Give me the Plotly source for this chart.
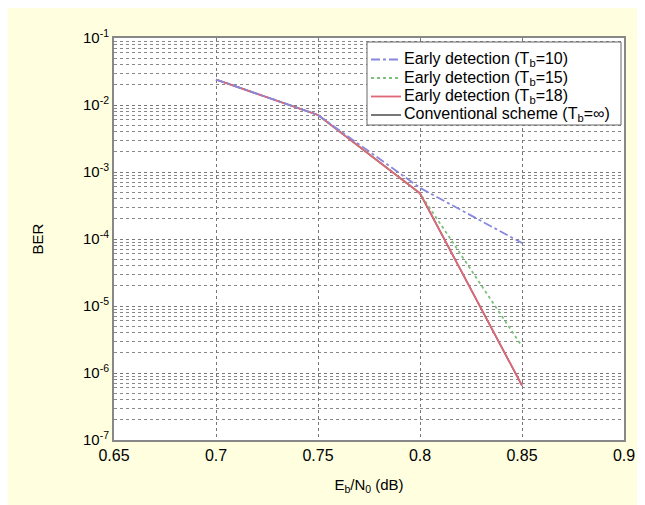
import plotly.graph_objects as go

# Data
snr = [0.7, 0.75, 0.8, 0.85]
ber_t10 = [2.4e-2, 7.1e-3, 5.8e-4, 8.7e-5]
ber_t15 = [2.4e-2, 7.1e-3, 4.8e-4, 2.5e-6]
ber_t18 = [2.4e-2, 7.1e-3, 4.8e-4, 6.5e-7]
ber_conv = [2.4e-2, 7.1e-3, 4.8e-4, 6.5e-7]

names = [
    "Early detection (T<sub>b</sub>=10)",
    "Early detection (T<sub>b</sub>=15)",
    "Early detection (T<sub>b</sub>=18)",
    "Conventional scheme (T<sub>b</sub>=∞)",
]

x_ticks = [0.65, 0.7, 0.75, 0.8, 0.85, 0.9]
x_ticklabels = ["0.65", "0.7", "0.75", "0.8", "0.85", "0.9"]
y_ticks = [1e-7, 1e-6, 1e-5, 1e-4, 1e-3, 1e-2, 1e-1]
y_ticklabels = ["10<sup>-7</sup>", "10<sup>-6</sup>", "10<sup>-5</sup>", "10<sup>-4</sup>",
                "10<sup>-3</sup>", "10<sup>-2</sup>", "10<sup>-1</sup>"]

styles = [
    dict(color="#8888e0", width=1.8, dash="dashdot"),
    dict(color="#7cc07c", width=1.8, dash="dot"),
    dict(color="#e06878", width=1.8),
    dict(color="#555555", width=1.6),
]
series = [ber_t10, ber_t15, ber_t18, ber_conv]

fig = go.Figure()
# draw conventional first, then the rest on top
for i in [3, 1, 2, 0]:
    fig.add_trace(go.Scatter(x=snr, y=series[i], mode="lines", name=names[i],
                             line=styles[i], showlegend=False))

# Manual legend (tight rows, as in the reference)
W, H = 510.0, 402.0  # plot area size in px
def px(xp):
    return (xp - 106) / W
def py(yp):
    return (432 - yp) / H

shapes = [dict(type="rect", xref="paper", yref="paper",
               x0=px(359), x1=px(613), y0=py(117), y1=py(34),
               fillcolor="white", line=dict(color="#666666", width=1), layer="above")]
annotations = []
row_y = [51.5, 70, 88.5, 107]
for i in range(4):
    st = styles[i]
    shapes.append(dict(type="line", xref="paper", yref="paper",
                       x0=px(363), x1=px(393), y0=py(row_y[i]), y1=py(row_y[i]),
                       line=dict(color=st["color"], width=st["width"],
                                 dash=st.get("dash", "solid")), layer="above"))
    annotations.append(dict(xref="paper", yref="paper", x=px(394), y=py(row_y[i]),
                            xanchor="left", yanchor="middle", showarrow=False,
                            text=names[i], font=dict(size=16, color="black")))

font = "Liberation Sans, Arial, sans-serif"
fig.update_layout(
    width=645, height=505,
    margin=dict(l=106, r=29, t=30, b=73),
    paper_bgcolor="#FFFFE0",
    plot_bgcolor="white",
    font=dict(family=font, size=16, color="black"),
    showlegend=False,
    shapes=shapes,
    annotations=annotations,
    xaxis=dict(
        range=[0.65, 0.9], tickvals=x_ticks, ticktext=x_ticklabels,
        showgrid=True, gridcolor="#777777", griddash="dot", gridwidth=1,
        showline=True, linecolor="#888888", linewidth=2, mirror=True,
        ticks="", zeroline=False, tickfont=dict(size=16),
        title=dict(text="E<sub>b</sub>/N<sub>0</sub> (dB)", font=dict(size=15), standoff=16),
    ),
    yaxis=dict(
        type="log", range=[-7, -1], tickvals=y_ticks, ticktext=y_ticklabels,
        showgrid=True, gridcolor="#777777", griddash="dot", gridwidth=1,
        minor=dict(showgrid=True, gridcolor="#888888", griddash="dot", gridwidth=1,
                   tickvals=[m * 10.0 ** e for e in range(-7, -1) for m in range(2, 10)]),
        showline=True, linecolor="#888888", linewidth=2, mirror=True,
        ticks="", zeroline=False, tickfont=dict(size=15),
        title=dict(text="BER", font=dict(size=15), standoff=36),
    ),
)

fig.write_html("out.html")
